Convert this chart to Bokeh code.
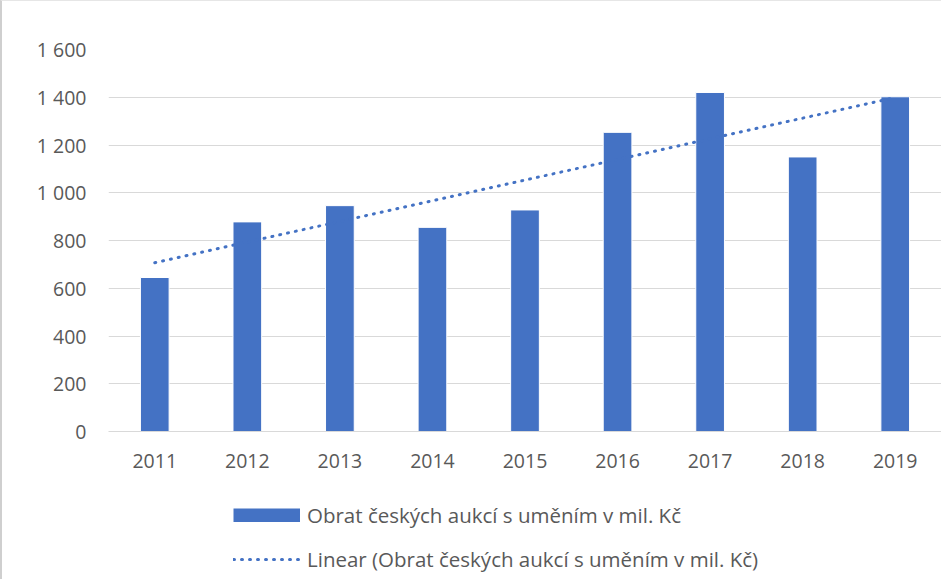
import numpy as np
from bokeh.plotting import figure
from bokeh.layouts import column
from bokeh.models import ColumnDataSource, FixedTicker, Legend, LegendItem, Range1d
from bokeh.embed import file_html
from bokeh.resources import INLINE

years = ["2011", "2012", "2013", "2014", "2015", "2016", "2017", "2018", "2019"]
turnover = [645, 878, 946, 855, 928, 1253, 1420, 1150, 1402]
y_ticks = [0, 200, 400, 600, 800, 1000, 1200, 1400, 1600]
y_tick_labels = ["0", "200", "400", "600", "800", "1 000", "1 200", "1 400", "1 600"]
series_name = "Obrat českých aukcí s uměním v mil. Kč"
trend_name = "Linear (Obrat českých aukcí s uměním v mil. Kč)"

# linear trendline fitted to the series
xi = np.arange(len(turnover))
slope, intercept = np.polyfit(xi, turnover, 1)
trend_y = [intercept, intercept + slope * (len(turnover) - 1)]
trend_x = [years[0], years[-1]]

BLUE = "#4472C4"
GRAY = "#595959"
FONT = "Open Sans"
FSIZE = "19.5px"
BAR_STYLE = dict(fill_color=BLUE, line_color="white", line_width=1)
TREND_STYLE = dict(line_color=BLUE, line_width=3, line_dash="1 7", line_cap="round")

p = figure(x_range=years, y_range=(0, 1600), width=939, height=485,
           output_backend="svg", toolbar_location=None,
           min_border_left=106, min_border_right=0, min_border_top=48,
           min_border_bottom=55)

src = ColumnDataSource(dict(year=years, value=turnover))
bars = p.vbar(x="year", top="value", width=0.31, source=src, **BAR_STYLE)
trend = p.line(x=trend_x, y=trend_y, **TREND_STYLE)

p.outline_line_color = None
p.xgrid.grid_line_color = None
p.ygrid.grid_line_color = "#D9D9D9"
p.ygrid.grid_line_width = 1

p.yaxis.ticker = FixedTicker(ticks=y_ticks)
p.yaxis.major_label_overrides = {t: l for t, l in zip(y_ticks, y_tick_labels)}
p.yaxis.axis_line_color = None
p.yaxis.major_tick_line_color = None
p.yaxis.minor_tick_line_color = None
p.yaxis.major_tick_out = 0
p.yaxis.major_label_standoff = 22

p.xaxis.axis_line_color = "#D9D9D9"
p.xaxis.major_tick_line_color = None
p.xaxis.minor_tick_line_color = None
p.xaxis.major_tick_out = 0
p.xaxis.major_label_standoff = 22

for ax in (p.xaxis[0], p.yaxis[0]):
    ax.major_label_text_font = FONT
    ax.major_label_text_font_size = FSIZE
    ax.major_label_text_color = GRAY

# legend strip below the chart (its sample glyphs sit outside the visible range)
lg = figure(width=939, height=93, output_backend="svg", toolbar_location=None,
            x_range=Range1d(0, 1), y_range=Range1d(0, 1),
            min_border_left=0, min_border_right=0, min_border_top=0,
            min_border_bottom=0)
lg.axis.visible = False
lg.grid.visible = False
lg.outline_line_color = None
leg_bar = lg.line(x=[5, 6], y=[5, 5], line_color=BLUE, line_width=14, line_cap="butt")
leg_line = lg.line(x=[5, 6], y=[5, 5], **TREND_STYLE)

legend = Legend(items=[LegendItem(label=series_name, renderers=[leg_bar]),
                       LegendItem(label=trend_name, renderers=[leg_line])],
                location=(125, 6), orientation="vertical",
                glyph_width=67, glyph_height=14, label_standoff=7,
                label_height=22, spacing=16, padding=0, margin=0,
                border_line_color=None, background_fill_alpha=0,
                label_text_font=FONT, label_text_font_size="20.5px",
                label_text_color=GRAY)
lg.add_layout(legend, "center")

page = column(p, lg, spacing=0)
page.styles = {"border-left": "2px solid #cfcfcf", "border-top": "1px solid #e6e6e6"}

open("out.html", "w").write(file_html(page, INLINE))
